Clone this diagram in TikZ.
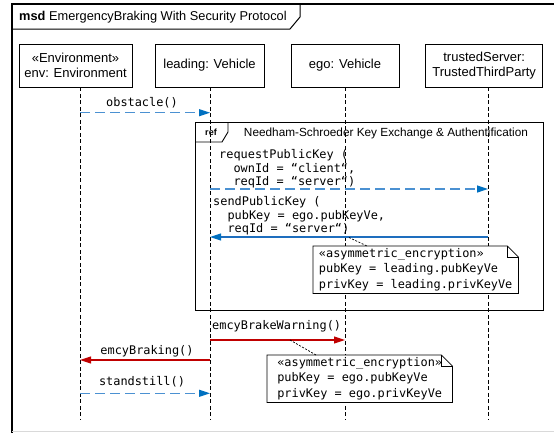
\documentclass[tikz,border=0pt]{standalone}
\usepackage{fontspec}
\setmainfont{Liberation Sans}
\newfontfamily\mono{DejaVu Sans Mono}
\usetikzlibrary{arrows.meta}
\definecolor{blueline}{RGB}{75,145,210}
\definecolor{bluehead}{RGB}{0,112,192}
\definecolor{bluesolid}{RGB}{30,110,190}
\definecolor{redmsg}{RGB}{192,0,0}
\begin{document}
\begin{tikzpicture}[x=1pt,y=-1pt,
  head/.style={draw,line width=0.8pt,minimum height=43pt,inner sep=0pt,
    font=\fontsize{13}{15.5}\selectfont,align=center},
  lifeline/.style={line width=0.7pt,dash pattern=on 4pt off 2.5pt},
  msgfont/.style={font=\mono\fontsize{11.9}{13.5}\selectfont},
  asyncmsg/.style={draw=blueline,line width=1.2pt,dash pattern=on 10pt off 5pt,
    -{Triangle[length=11pt,width=7pt,color=bluehead,fill=bluehead]}},
  bluemsg/.style={draw=bluesolid,line width=1.1pt,
    -{Triangle[length=11pt,width=7pt,color=bluehead,fill=bluehead]}},
  redmsgstyle/.style={draw=redmsg,line width=1.1pt,
    -{Triangle[length=11pt,width=7pt,color=redmsg,fill=redmsg]}},
  notebox/.style={inner xsep=5pt,inner ysep=0pt,align=left,anchor=north west,
    font=\mono\fontsize{11.9}{15.3}\selectfont},
  noteline/.style={draw,line width=0.8pt,fill=white},
  notelink/.style={line width=0.7pt,dash pattern=on 2pt off 1.5pt},
  lbl/.style={inner sep=0pt,msgfont}
]
\useasboundingbox (0,0) rectangle (554,432);
\clip (0,0) rectangle (554,432);
\fill[white] (0,0) rectangle (554,432);

% outer frame
\draw[line width=1.8pt] (12,440) -- (12,4) -- (570,4);
\draw[line width=1pt] (12,29) -- (290,29) -- (300,17) -- (300,4);
\draw[gray!30,line width=1pt] (12,431) -- (554,431);
\node[anchor=west,inner sep=0pt,font=\fontsize{12.8}{15}\selectfont] (title) at (19,17)
  {\textbf{msd} EmergencyBraking With Security Protocol};

% heads
\node[head,minimum width=113pt] (env) at (75.5,65.5) {«Environment»\\env: Environment};
\node[head,minimum width=109pt] (leading) at (209.5,65.5) {leading: Vehicle};
\node[head,minimum width=108pt] (ego) at (345,65.5) {ego: Vehicle};
\node[head,minimum width=117pt] (server) at (484.2,65.5) {trustedServer:\\TrustedThirdParty};

% ref fragment
\node[draw,line width=1.2pt,minimum width=348pt,minimum height=188pt,inner sep=0pt,anchor=north west]
  (ref) at (195,122) {};
\draw[line width=0.9pt] (195,142) -- (222,142) -- (228,132) -- (228,122);
\node[inner sep=0pt,font=\bfseries\fontsize{9}{10}\selectfont] (reftag) at (211,132) {ref};
\node[inner sep=0pt,font=\fontsize{11.8}{14}\selectfont] (reftitle) at (386,133)
  {Needham-Schroeder Key Exchange \& Authentification};

% lifelines
\coordinate (envEnd) at (80,419);
\coordinate (leadEnd) at (210,419);
\coordinate (egoEnd) at (345,419);
\coordinate (srvEnd) at (488,419);
\draw[lifeline] (env.south -| envEnd) -- (envEnd);
\draw[lifeline] (leading.south -| leadEnd) -- (leadEnd);
\draw[lifeline] (ego.south -| egoEnd) -- (egoEnd);
\draw[lifeline] (server.south -| srvEnd) -- (srvEnd);

% obstacle
\coordinate (obsA) at (80,112.7);
\coordinate (obsB) at (210,112.7);
\draw[asyncmsg] (obsA) -- (obsB);
\node[lbl] (obsL) at (142,103) {obstacle()};

% requestPublicKey
\coordinate (reqA) at (210,189);
\coordinate (reqB) at (488,189);
\draw[asyncmsg] (reqA) -- (reqB);
\node[lbl,align=left,anchor=north west] (reqL) at (219,149.5)
  {requestPublicKey (\\\phantom{xx}ownId = “client“,\\\phantom{xx}reqId = “server“)};

% sendPublicKey
\coordinate (sndA) at (488,237);
\coordinate (sndB) at (210,237);
\draw[bluemsg] (sndA) -- (sndB);
\node[lbl,align=left,anchor=north west] (sndL) at (213,196.5)
  {sendPublicKey (\\\phantom{xx}pubKey = ego.pubKeyVe,\\\phantom{xx}reqId = “server“)};

% note 1
\node[notebox,minimum width=205pt,minimum height=47pt] (note1) at (313,246)
  {«asymmetric\_encryption»\\pubKey = leading.pubKeyVe\\privKey = leading.privKeyVe};
\draw[noteline] (note1.north west) -- ([xshift=-11pt]note1.north east) -- ([yshift=-11pt]note1.north east)
  -- (note1.south east) -- (note1.south west) -- cycle;
\draw[line width=0.8pt] ([xshift=-11pt]note1.north east) -- ([xshift=-11pt,yshift=-11pt]note1.north east)
  -- ([yshift=-11pt]note1.north east);
\node[notebox,minimum width=205pt,minimum height=47pt] at (313,246)
  {«asymmetric\_encryption»\\pubKey = leading.pubKeyVe\\privKey = leading.privKeyVe};
\coordinate (n1from) at (349,237.5);
\coordinate (n1to) at (367,246);
\draw[notelink] (n1from) -- (n1to);

% emcyBrakeWarning
\coordinate (ewA) at (210,340);
\coordinate (ewB) at (345,340);
\draw[redmsgstyle] (ewA) -- (ewB);
\node[lbl,anchor=west] (ewL) at (212,326) {emcyBrakeWarning()};

% note 2
\node[notebox,minimum width=185pt,minimum height=47pt] (note2) at (267,355)
  {«asymmetric\_encryption»\\pubKey = ego.pubKeyVe\\privKey = ego.privKeyVe};
\draw[noteline] (note2.north west) -- ([xshift=-11pt]note2.north east) -- ([yshift=-11pt]note2.north east)
  -- (note2.south east) -- (note2.south west) -- cycle;
\draw[line width=0.8pt] ([xshift=-11pt]note2.north east) -- ([xshift=-11pt,yshift=-11pt]note2.north east)
  -- ([yshift=-11pt]note2.north east);
\node[notebox,minimum width=185pt,minimum height=47pt] at (267,355)
  {«asymmetric\_encryption»\\pubKey = ego.pubKeyVe\\privKey = ego.privKeyVe};
\coordinate (n2from) at (290,340);
\coordinate (n2to) at (316,355);
\draw[notelink] (n2from) -- (n2to);

% emcyBraking
\coordinate (ebA) at (210,360);
\coordinate (ebB) at (80,360);
\draw[redmsgstyle] (ebA) -- (ebB);
\node[lbl] (ebL) at (147,351.5) {emcyBraking()};

% standstill
\coordinate (ssA) at (80,393.3);
\coordinate (ssB) at (210,393.3);
\draw[asyncmsg] (ssA) -- (ssB);
\node[lbl] (ssL) at (142,381.5) {standstill()};
\end{tikzpicture}
\end{document}
